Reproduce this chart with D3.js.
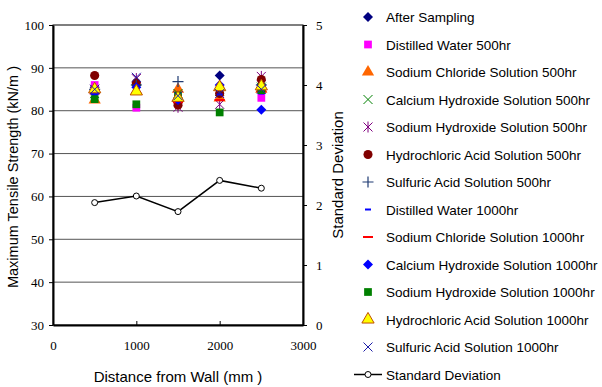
<!DOCTYPE html>
<html>
<head>
<meta charset="utf-8">
<script src="https://cdn.jsdelivr.net/npm/d3@7"></script>
<style>
  body { margin: 0; background: white; }
  svg { display: block; }
  .tickSerif text { font-family: "Liberation Serif", "DejaVu Serif", "Times New Roman", serif; font-size: 13px; }
</style>
</head>
<body>
<div class="container"></div>
<script>
// distances (mm)
const distances = [500, 1000, 1500, 2000, 2500];

// tensile strength per series (kN/m)
const afterSampling   = [85.5, 86.0, 82.0, 88.2, 86.0];
const distilled500    = [86.0, 80.7, 83.0, 83.5, 83.0];
const naCl500         = [82.5, 84.5, 85.0, 83.0, 85.0];
const caOH500         = [84.0, 85.0, 84.0, 84.5, 85.5];
const naOH500         = [85.0, 87.5, 80.8, 81.5, 88.0];
const hCl500          = [88.2, 86.5, 81.3, 84.0, 87.3];
const h2SO4500        = [85.0, 86.0, 86.8, 85.0, 86.0];
const distilled1000   = [84.5, 85.5, 82.5, 83.8, 84.0];
const naCl1000        = [84.0, 84.0, 82.0, 82.5, 84.5];
const caOH1000        = [84.0, 85.5, 82.5, 86.0, 80.2];
const naOH1000        = [82.7, 81.5, 83.5, 79.6, 84.8];
const hCl1000         = [85.0, 84.5, 83.0, 85.5, 85.7];
const h2SO41000       = [85.0, 87.8, 83.5, 84.0, 85.0];

// standard deviation (right axis)
const stdDev = [2.04, 2.15, 1.89, 2.41, 2.28];

const xTicks = [0, 1000, 2000, 3000];
const yTicks = [30, 40, 50, 60, 70, 80, 90, 100];
const y2Ticks = [0, 1, 2, 3, 4, 5];

const series = [
  { name: "After Sampling", values: afterSampling, shape: "diamond", color: "#000080" },
  { name: "Distilled Water 500hr", values: distilled500, shape: "square", color: "#ff00ff" },
  { name: "Sodium Chloride Solution 500hr", values: naCl500, shape: "triangle", color: "#ff6600" },
  { name: "Calcium Hydroxide Solution 500hr", values: caOH500, shape: "x", color: "#008000" },
  { name: "Sodium Hydroxide Solution 500hr", values: naOH500, shape: "star", color: "#800080" },
  { name: "Hydrochloric Acid Solution 500hr", values: hCl500, shape: "circle", color: "#800000" },
  { name: "Sulfuric Acid Solution 500hr", values: h2SO4500, shape: "plus", color: "#1f3b73" },
  { name: "Distilled Water 1000hr", values: distilled1000, shape: "shortdash", color: "#0000ff" },
  { name: "Sodium Chloride Solution 1000hr", values: naCl1000, shape: "dash", color: "#ff0000" },
  { name: "Calcium Hydroxide Solution 1000hr", values: caOH1000, shape: "diamond", color: "#0000ff" },
  { name: "Sodium Hydroxide Solution 1000hr", values: naOH1000, shape: "square", color: "#008000" },
  { name: "Hydrochloric Acid Solution 1000hr", values: hCl1000, shape: "triangleOutline", color: "#ffff00" },
  { name: "Sulfuric Acid Solution 1000hr", values: h2SO41000, shape: "x", color: "#1c1ca8" }
];

const w = 602;
const h = 387;
const plotLeft = 53, plotRight = 303, plotTop = 25, plotBottom = 325;

const svg = d3.select(".container")
  .append("svg")
  .attr("width", w)
  .attr("height", h)
  .style("background", "white");

const xScale = d3.scaleLinear().domain([0, 3000]).range([plotLeft, plotRight]);
const yScale = d3.scaleLinear().domain([30, 100]).range([plotBottom, plotTop]);
const y2Scale = d3.scaleLinear().domain([0, 5]).range([plotBottom, plotTop]);

// gridlines
svg.append("g")
  .selectAll("line")
  .data(yTicks.filter(d => d > 30 && d < 100))
  .enter()
  .append("line")
  .attr("x1", plotLeft).attr("x2", plotRight)
  .attr("y1", d => yScale(d)).attr("y2", d => yScale(d))
  .attr("stroke", "#555")
  .attr("stroke-width", 1);

// frame
svg.append("rect")
  .attr("x", plotLeft).attr("y", plotTop)
  .attr("width", plotRight - plotLeft).attr("height", plotBottom - plotTop)
  .attr("fill", "none")
  .attr("stroke", "#000")
  .attr("stroke-width", 1);

const sans = "'Liberation Sans', Arial, sans-serif";

// axes
const xAxis = d3.axisBottom(xScale).tickValues(xTicks).tickFormat(d3.format("d"))
  .tickSizeInner(-4).tickSizeOuter(0).tickPadding(16);
const yAxis = d3.axisLeft(yScale).tickValues(yTicks).tickFormat(d3.format("d"))
  .tickSizeInner(4).tickSizeOuter(0).tickPadding(5);
const y2Axis = d3.axisRight(y2Scale).tickValues(y2Ticks).tickFormat(d3.format("d"))
  .tickSizeInner(4).tickSizeOuter(0).tickPadding(9);

const gx = svg.append("g").attr("class", "tickSerif").attr("transform", "translate(0," + plotBottom + ")").call(xAxis);
const gy = svg.append("g").attr("class", "tickSerif").attr("transform", "translate(" + plotLeft + ",0)").call(yAxis);
const gy2 = svg.append("g").attr("class", "tickSerif").attr("transform", "translate(" + plotRight + ",0)").call(y2Axis);

[gx, gy, gy2].forEach(g => {
  g.attr("font-family", "Liberation Serif").attr("font-size", 13);
  g.select(".domain").attr("stroke", "#000").attr("stroke-width", 2);
  g.selectAll(".tick line").attr("stroke", "#000");
  g.selectAll("text").attr("fill", "#000");
});

// axis titles
svg.append("text")
  .attr("x", 178).attr("y", 382)
  .attr("text-anchor", "middle")
  .style("font-family", sans).style("font-size", "15px")
  .text("Distance from Wall (mm )");

svg.append("text")
  .attr("transform", "translate(18,177) rotate(-90)")
  .attr("text-anchor", "middle")
  .style("font-family", sans).style("font-size", "14.5px")
  .text("Maximum Tensile Strength (kN/m )");

svg.append("text")
  .attr("transform", "translate(343,175) rotate(-90)")
  .attr("text-anchor", "middle")
  .style("font-family", sans).style("font-size", "15px")
  .text("Standard Deviation");

// marker drawing
const drawMarker = (g, shape, color) => {
  if (shape === "diamond") {
    g.append("path").attr("d", "M0,-5L5,0L0,5L-5,0Z").attr("fill", color);
  } else if (shape === "square") {
    g.append("path").attr("d", d3.symbol(d3.symbolSquare, 60)()).attr("fill", color);
  } else if (shape === "triangle") {
    g.append("path").attr("d", d3.symbol(d3.symbolTriangle, 65)()).attr("fill", color);
  } else if (shape === "triangleOutline") {
    g.append("path").attr("d", d3.symbol(d3.symbolTriangle, 65)()).attr("fill", color)
      .attr("stroke", "#c05000").attr("stroke-width", 1);
  } else if (shape === "circle") {
    g.append("path").attr("d", d3.symbol(d3.symbolCircle, 65)()).attr("fill", color);
  } else if (shape === "x") {
    g.append("path").attr("d", "M-4.5,-4.5L4.5,4.5M-4.5,4.5L4.5,-4.5").attr("stroke", color).attr("stroke-width", 1).attr("fill", "none");
  } else if (shape === "star") {
    g.append("path").attr("d", "M-4.5,-4.5L4.5,4.5M-4.5,4.5L4.5,-4.5M0,-5.5L0,5.5").attr("stroke", color).attr("stroke-width", 1).attr("fill", "none");
  } else if (shape === "plus") {
    g.append("path").attr("d", "M-5.5,0L5.5,0M0,-5.5L0,5.5").attr("stroke", color).attr("stroke-width", 1.2).attr("fill", "none");
  } else if (shape === "shortdash") {
    g.append("path").attr("d", "M-3,0L3,0").attr("stroke", color).attr("stroke-width", 2).attr("fill", "none");
  } else if (shape === "dash") {
    g.append("path").attr("d", "M-5,0L5,0").attr("stroke", color).attr("stroke-width", 2).attr("fill", "none");
  }
};

// points
series.forEach(s => {
  svg.append("g")
    .selectAll("g")
    .data(s.values)
    .enter()
    .append("g")
    .attr("transform", (d, i) => "translate(" + xScale(distances[i]) + "," + yScale(d) + ")")
    .each(function () { drawMarker(d3.select(this), s.shape, s.color); });
});

// standard deviation line
const line = d3.line()
  .x((d, i) => xScale(distances[i]))
  .y(d => y2Scale(d));

svg.append("path")
  .datum(stdDev)
  .attr("d", line)
  .attr("fill", "none")
  .attr("stroke", "#000")
  .attr("stroke-width", 1.5);

svg.append("g")
  .selectAll("circle")
  .data(stdDev)
  .enter()
  .append("circle")
  .attr("cx", (d, i) => xScale(distances[i]))
  .attr("cy", d => y2Scale(d))
  .attr("r", 3)
  .attr("fill", "white")
  .attr("stroke", "#000")
  .attr("stroke-width", 1);

// legend
const legendX = 368, legendY = 17, legendStep = 27.5;
const legend = svg.append("g");

series.forEach((s, i) => {
  const row = legend.append("g").attr("transform", "translate(" + legendX + "," + (legendY + i * legendStep) + ")");
  drawMarker(row, s.shape, s.color);
  row.append("text")
    .attr("x", 18).attr("y", 5)
    .style("font-family", sans).style("font-size", "13.5px")
    .text(s.name);
});

const sdRow = legend.append("g").attr("transform", "translate(" + legendX + "," + (legendY + series.length * legendStep) + ")");
sdRow.append("line").attr("x1", -14).attr("x2", 14).attr("stroke", "#000").attr("stroke-width", 1.5);
sdRow.append("circle").attr("r", 3).attr("fill", "white").attr("stroke", "#000");
sdRow.append("text")
  .attr("x", 18).attr("y", 5)
  .style("font-family", sans).style("font-size", "13.5px")
  .text("Standard Deviation");
</script>
</body>
</html>
